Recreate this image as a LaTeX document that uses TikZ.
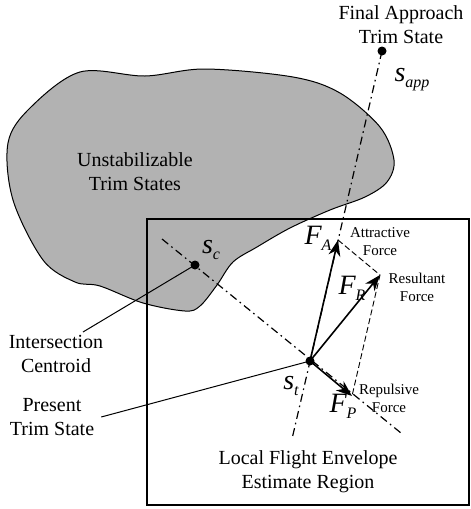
\documentclass[tikz,border=0pt]{standalone}
\usepackage{fontspec}
\setmainfont{Liberation Serif}
\usetikzlibrary{arrows.meta}
\newcommand{\vsym}[2]{{\fontsize{14}{14}\selectfont\itshape #1}\raisebox{-3pt}{\fontsize{8}{8}\selectfont\itshape #2}}

\begin{document}
\begin{tikzpicture}[x=0.5pt,y=-0.5pt,
    lbl/.style={align=center,font=\fontsize{10}{12}\selectfont},
    small/.style={align=center,font=\fontsize{7.5}{9}\selectfont},
    dot/.style={circle,fill,inner sep=0pt,minimum size=4.5pt},
    axis/.style={line width=0.6pt,dash pattern=on 4pt off 2pt on 0.8pt off 2pt},
    guide/.style={line width=0.45pt,dash pattern=on 3pt off 1.5pt},
    force/.style={line width=0.8pt,-{Stealth[length=8pt,width=6pt,inset=2.5pt]}}]
  \useasboundingbox (0,0) rectangle (471,509);
  \filldraw[fill=gray!60,line width=0.5pt] plot[smooth cycle,tension=0.55] coordinates {
    (80,72) (145,76) (205,69) (293,77) (340,93) (380,127) (394,160) (387,182)
    (365,197) (330,210) (290,228) (257,247) (233,262) (217,285) (200,306)
    (185,311) (143,303) (100,286) (75,282) (43,260) (13,200) (8,143) (30,108)};
  \draw[line width=0.8pt] (147,219) rectangle (469,505);

  \node[dot] (sapp) at (382,51) {};
  \node[dot] (sc) at (195,265) {};
  \node[dot] (st) at (310,361) {};
  \coordinate (axbot) at (292,439);
  \coordinate (cline0) at (162,239);
  \coordinate (cline1) at (401,433);
  \coordinate (fa) at (338,240);
  \coordinate (fp) at (352,396);
  \coordinate (fr) at (380,275);
  \coordinate (centfoot) at (83,332);

  \draw[axis] (sapp.center) -- (axbot);
  \draw[axis] (cline0) -- (cline1);
  \draw[guide] (fa) -- (fr) -- (fp);
  \draw[force] (st.center) -- (fa);
  \draw[force] (st.center) -- (fr);
  \draw[force] (st.center) -- (fp);

  \node[lbl] (fatrim) at (401,25) {Final Approach\\Trim State};
  \node[lbl] (unstab) at (135,172) {Unstabilizable\\Trim States};
  \node[lbl] (centlbl) at (56,354) {Intersection\\Centroid};
  \node[lbl] (prestlbl) at (52,417) {Present\\Trim State};
  \node[lbl] (region) at (308,472) {Local Flight Envelope\\Estimate Region};
  \node[small] (attr) at (380,242) {Attractive\\Force};
  \node[small] (resl) at (417,287) {Resultant\\Force};
  \node[small] (repl) at (389,398) {Repulsive\\Force};

  \node (sapplbl) at (412,80) {\vsym{s}{app}};
  \node (sclbl) at (211,250) {\vsym{s}{c}};
  \node (stlbl) at (291,386) {\vsym{s}{t}};
  \node (falbl) at (318,238) {\vsym{F}{A}};
  \node (frlbl) at (352,288) {\vsym{F}{R}};
  \node (fplbl) at (343,406) {\vsym{F}{P}};

  \draw[line width=0.5pt] (centfoot) -- (sc.center);
  \draw[line width=0.5pt] (prestlbl.east) -- (st.center);
\end{tikzpicture}
\end{document}
